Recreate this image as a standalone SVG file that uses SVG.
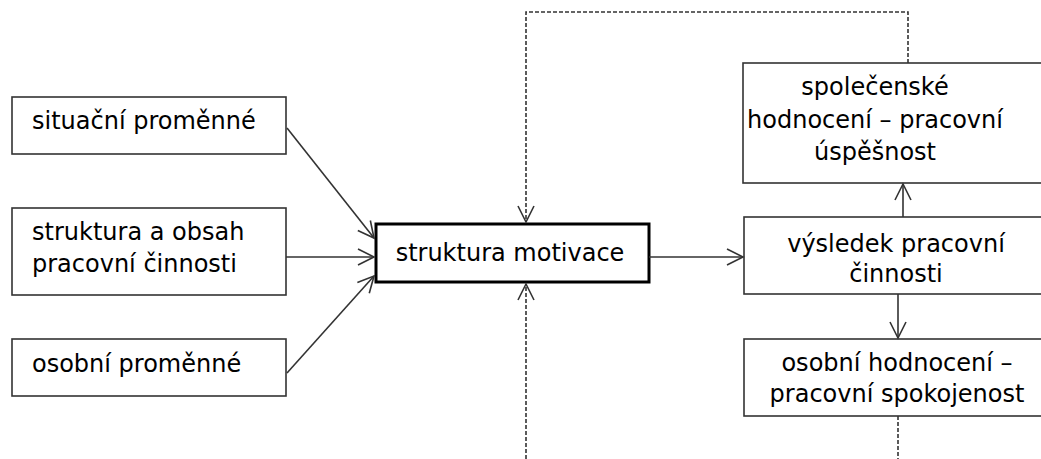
<svg xmlns="http://www.w3.org/2000/svg" width="1041" height="459" viewBox="0 0 1041 459">
<style>
.box{fill:#fff;stroke:#333;stroke-width:1.6}
.main{fill:#fff;stroke:#000;stroke-width:3}
.t{font-family:"DejaVu Sans","Noto Sans",sans-serif;font-size:24px;fill:#000}
.c{text-anchor:middle}
.ln{fill:none;stroke:#333;stroke-width:1.6}
.ds{fill:none;stroke:#333;stroke-width:1.6;stroke-dasharray:4 2}
</style>
<defs>
<marker id="ah" viewBox="-18 -10 20 20" refX="0" refY="0" markerWidth="20" markerHeight="20" markerUnits="userSpaceOnUse" orient="auto">
<path d="M-16,-8 L0,0 L-16,8" fill="none" stroke="#333" stroke-width="1.6"/>
</marker>
</defs>
<g id="n1"><rect class="box" x="12" y="97" width="274" height="57"/><text class="t" x="32" y="129">situační proměnné</text></g>
<g id="n2"><rect class="box" x="12" y="208" width="274" height="87"/><text class="t" x="32" y="240">struktura a obsah</text><text class="t" x="32" y="272">pracovní činnosti</text></g>
<g id="n3"><rect class="box" x="12" y="339" width="274" height="57"/><text class="t" x="32" y="372">osobní proměnné</text></g>
<g id="n4"><rect class="main" x="376" y="224" width="273" height="58"/><text class="t c" x="510" y="261">struktura motivace</text></g>
<g id="n5"><rect class="box" x="743" y="63" width="310" height="120"/><text class="t c" x="875" y="95">společenské</text><text class="t c" x="875" y="128">hodnocení – pracovní</text><text class="t c" x="875" y="160">úspěšnost</text></g>
<g id="n6"><rect class="box" x="744" y="217" width="310" height="77"/><text class="t c" x="896" y="252">výsledek pracovní</text><text class="t c" x="896" y="282">činnosti</text></g>
<g id="n7"><rect class="box" x="744" y="339" width="310" height="77"/><text class="t c" x="897" y="371">osobní hodnocení –</text><text class="t c" x="897" y="402">pracovní spokojenost</text></g>
<g id="connectors">
<path class="ln" d="M287,128 L374,238" marker-end="url(#ah)"/>
<path class="ln" d="M286,257 L374,257" marker-end="url(#ah)"/>
<path class="ln" d="M287,373 L374,276" marker-end="url(#ah)"/>
<path class="ln" d="M649,257 L743,257" marker-end="url(#ah)"/>
<path class="ln" d="M903,217 L903,184" marker-end="url(#ah)"/>
<path class="ln" d="M898,294 L898,338" marker-end="url(#ah)"/>
<path class="ds" d="M908,63 L908,12 L526,12 L526,222" marker-end="url(#ah)"/>
<path class="ds" d="M526,459 L526,284" marker-end="url(#ah)"/>
<path class="ds" d="M898,416 L898,459"/>
</g>
</svg>
